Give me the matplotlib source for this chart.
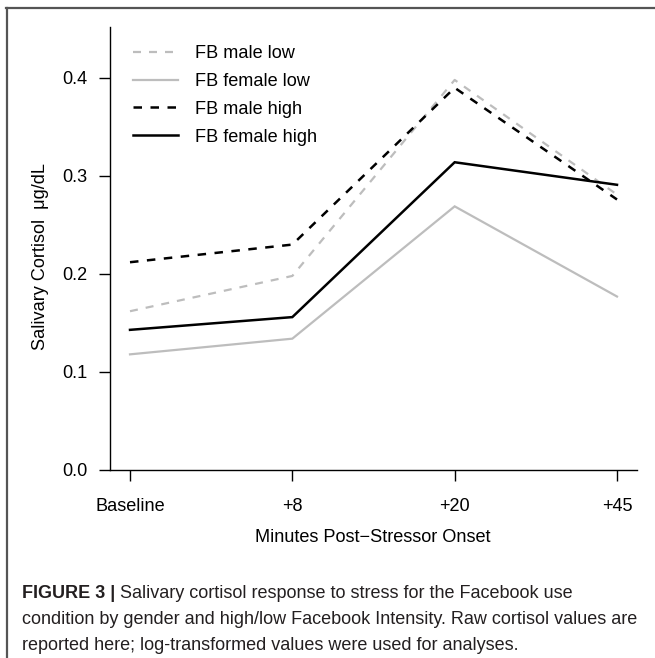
import matplotlib
matplotlib.use("Agg")
import matplotlib.pyplot as plt
from matplotlib.lines import Line2D

plt.rcParams['font.family'] = ['Liberation Sans', 'DejaVu Sans']

# ---- data ----
time_labels = ["Baseline", "+8", "+20", "+45"]
male_low = [0.162, 0.198, 0.398, 0.281]
female_low = [0.118, 0.134, 0.269, 0.177]
male_high = [0.212, 0.230, 0.390, 0.276]
female_high = [0.143, 0.156, 0.314, 0.291]
series_names = ["FB male low", "FB female low", "FB male high", "FB female high"]
y_ticks = [0.0, 0.1, 0.2, 0.3, 0.4]

caption_bold = "FIGURE 3 | "
caption_lines = [
    "Salivary cortisol response to stress for the Facebook use",
    "condition by gender and high/low Facebook Intensity. Raw cortisol values are",
    "reported here; log-transformed values were used for analyses.",
]

W, H = 655, 658
fig = plt.figure(figsize=(W / 100, H / 100), dpi=100)

# axes placed in pixel terms
left, right, top, bottom = 110, 637, 27, 470
ax = fig.add_axes([left / W, 1 - bottom / H, (right - left) / W, (bottom - top) / H])

fs = 13.1
x = list(range(1, len(time_labels) + 1))
gray = "#bdbdbd"
styles = [
    dict(color=gray, lw=1.6, dashes=(3.6, 3.6)),
    dict(color=gray, lw=1.6),
    dict(color="black", lw=1.8, dashes=(3.4, 3.4)),
    dict(color="black", lw=1.8),
]
for vals, st in zip([male_low, female_low, male_high, female_high], styles):
    ax.plot(x, vals, solid_joinstyle="miter", **st)

ax.set_xlim(1 - 20 / 162.3, 4 + 20 / 162.3)
ax.set_ylim(0, 0.452)
ax.set_xticks(x)
ax.set_xticklabels(time_labels)
ax.set_yticks(y_ticks)
ax.set_yticklabels([f"{v:.1f}" for v in y_ticks])
for s in ["top", "right"]:
    ax.spines[s].set_visible(False)
for s in ["left", "bottom"]:
    ax.spines[s].set_linewidth(1.0)
ax.tick_params(axis="both", length=8, width=1.0, labelsize=fs, colors="black")
ax.tick_params(axis="y", pad=8)
ax.tick_params(axis="x", pad=12)

fig.text(373 / W, 1 - 538 / H, "Minutes Post\u2212Stressor Onset", fontsize=fs,
         ha="center", va="center")
fig.text(41 / W, 1 - 257 / H, "Salivary Cortisol  \u03bcg/dL", fontsize=fs,
         rotation=90, ha="center", va="center")

handles = [Line2D([], [], **st) for st in styles]
leg = ax.legend(handles, series_names, loc="upper left", frameon=False, fontsize=fs,
                handlelength=2.5, handletextpad=0.9, labelspacing=0.6,
                borderpad=0, borderaxespad=0,
                bbox_to_anchor=((133 - left) / (right - left), 1 - (45 - top) / (bottom - top)))

# frame around figure
fig.add_artist(Line2D([6 / W, 1], [1 - 8 / H, 1 - 8 / H], color="#555555", lw=1.6))
fig.add_artist(Line2D([7 / W, 7 / W], [0, 1 - 8 / H], color="#555555", lw=1.6))

# caption
cap_size = 12.95
r = fig.canvas.get_renderer()
tb = fig.text(22 / W, 1 - 594 / H, caption_bold, fontsize=cap_size, fontweight="bold",
              va="center", ha="left", color="#231f20")
bw = tb.get_window_extent(r).width
fig.text((22 + bw) / W, 1 - 594 / H, caption_lines[0], fontsize=cap_size, va="center",
         ha="left", color="#231f20")
fig.text(22 / W, 1 - 620 / H, caption_lines[1], fontsize=cap_size, va="center", ha="left",
         color="#231f20")
fig.text(22 / W, 1 - 646 / H, caption_lines[2], fontsize=cap_size, va="center", ha="left",
         color="#231f20")

fig.savefig("out.png", dpi=100)
